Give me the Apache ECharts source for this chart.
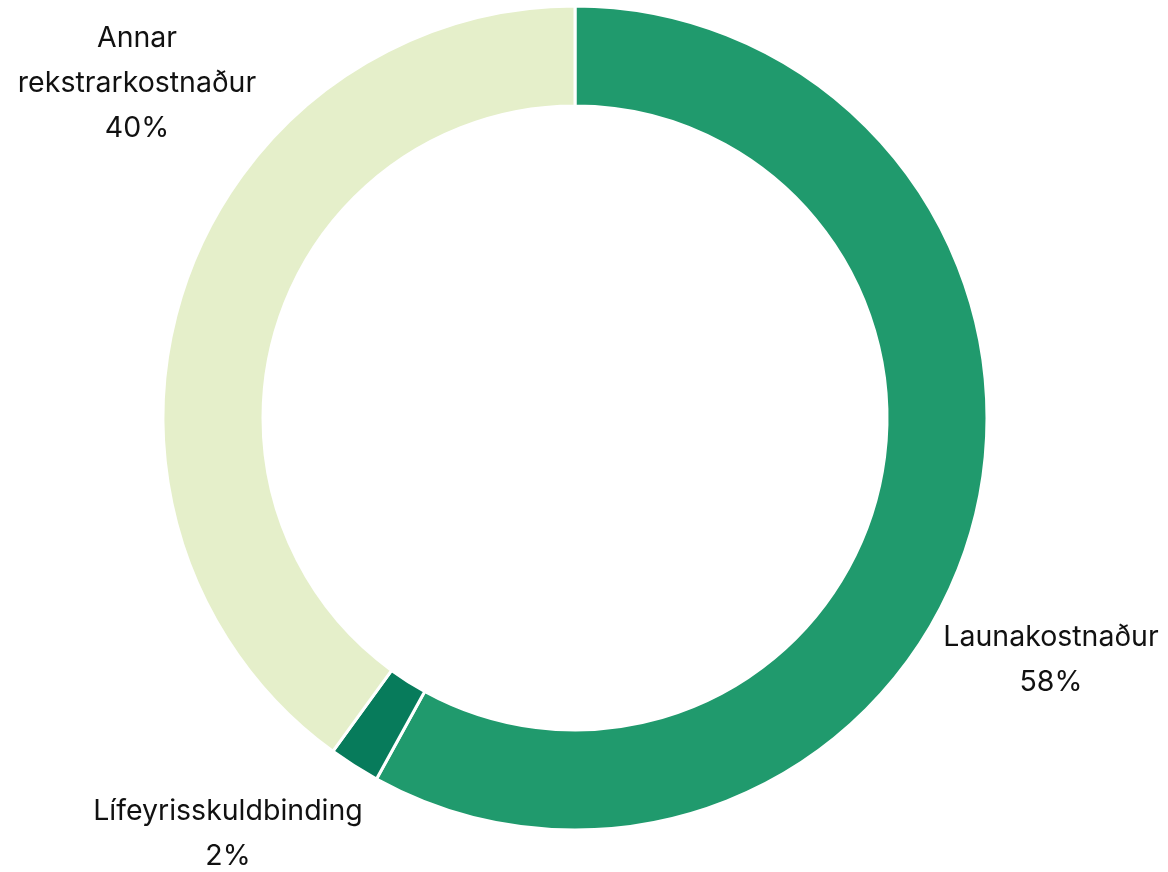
<!DOCTYPE html>
<html>
<head>
<meta charset="utf-8">
<script src="https://cdn.jsdelivr.net/npm/echarts@6/dist/echarts.min.js"></script>
<style>
  html, body { margin: 0; padding: 0; background: #ffffff; }
  #chart { width: 1168px; height: 872px; }
</style>
</head>
<body>
<div id="chart"></div>
<script>
// Cost breakdown (share of total, %)
const categories = ['Launakostnaður', 'Lífeyrisskuldbinding', 'Annar\nrekstrarkostnaður'];
const values = [58, 2, 40];
const colors = ['#209a6d', '#077b5b', '#e5efca'];

// Label anchor points (px) for each slice
const labelAnchors = [
  { x: 1051, y: 660 },
  { x: 228, y: 834 },
  { x: 137, y: 83 }
];

const chart = echarts.init(document.getElementById('chart'), null, { renderer: 'canvas' });

chart.setOption({
  animation: false,
  backgroundColor: '#ffffff',
  series: [{
    type: 'pie',
    center: [575, 418],
    radius: [312, 412],
    startAngle: 90,
    clockwise: true,
    avoidLabelOverlap: false,
    itemStyle: { borderColor: '#ffffff', borderWidth: 3 },
    label: {
      show: true,
      position: 'outside',
      formatter: p => p.name + '\n' + p.value + '%',
      fontFamily: 'Inter, "Noto Sans", sans-serif',
      fontSize: 28.5,
      lineHeight: 45,
      color: '#111111',
      align: 'center'
    },
    labelLine: { show: false },
    labelLayout: p => ({
      x: labelAnchors[p.dataIndex].x,
      y: labelAnchors[p.dataIndex].y,
      align: 'center',
      verticalAlign: 'middle',
      hideOverlap: false
    }),
    emphasis: { disabled: true },
    data: categories.map((name, i) => ({
      name: name,
      value: values[i],
      itemStyle: { color: colors[i] }
    }))
  }]
});
</script>
</body>
</html>
